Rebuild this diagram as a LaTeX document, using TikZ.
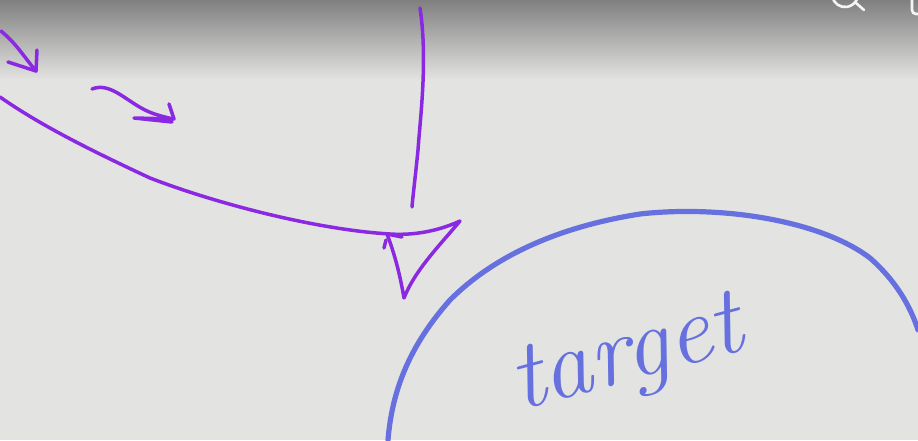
\documentclass[tikz,border=0pt]{standalone}
\begin{document}
\begin{tikzpicture}[x=1pt,y=-1pt,
  pen/.style={draw=penpurple,line width=3.5pt,line cap=round,line join=round},
  bluepen/.style={draw=penblue,line width=5.2pt,line cap=round,line join=round},
  uiicon/.style={draw=white!92!gray,line width=2.6pt,line cap=round}]
\definecolor{penpurple}{RGB}{138,40,226}
\definecolor{penblue}{RGB}{102,112,222}
\definecolor{boardbg}{RGB}{227,228,226}
\definecolor{topshade}{RGB}{128,128,128}
\useasboundingbox (0,0) rectangle (918,440);
\fill[boardbg] (0,0) rectangle (918,440);
\shade[top color=topshade,bottom color=boardbg] (0,0) rectangle (918,80);
% screenshot UI icons
\draw[uiicon] (832.2,-3.7) arc[start angle=170,end angle=20,radius=13];
\draw[uiicon] (856,3) -- (864,10);
\draw[uiicon] (918,14) -- (916,14) to[out=180,in=270] (912,10) -- (912,0);
% top-left arrow
\coordinate (a1s) at (1,31);
\coordinate (a1t) at (36,71);
\draw[pen] (a1s) to[out=-40,in=130] (a1t);
\draw[pen] (37,50) -- (36,71) -- (8,62);
% small squiggle arrow
\coordinate (a2s) at (92,89);
\coordinate (a2t) at (173,119);
\draw[pen] (a2s) .. controls (110,82) and (125,100) .. (145,110) .. controls (155,115) and (165,117) .. (a2t);
\draw[pen] (169,104) -- (174,119) -- (134,118) -- (172,122);
% long curve into triangle
\coordinate (lcs) at (0,97);
\coordinate (tri1) at (460,221);
\coordinate (tri2) at (404,298);
\coordinate (tri3) at (387,234);
\draw[pen] (lcs) .. controls (40,125) and (90,150) .. (150,178)
  .. controls (220,205) and (320,230) .. (390,234)
  .. controls (420,236) and (445,228) .. (tri1)
  .. controls (440,245) and (415,270) .. (tri2)
  .. controls (400,275) and (395,255) .. (tri3);
\draw[pen] (tri3) -- (402,237);
\draw[pen] (386,240) -- (384,248);
% vertical line
\coordinate (vs) at (420,8);
\coordinate (ve) at (412,207);
\draw[pen] (vs) .. controls (428,60) and (420,120) .. (418,150) .. controls (415,180) and (413,195) .. (ve);
% blue target blob
\coordinate (bs) at (388,440);
\draw[bluepen] (bs) .. controls (392,390) and (410,345) .. (450,300)
  .. controls (500,250) and (570,225) .. (640,214)
  .. controls (720,205) and (820,220) .. (870,258)
  .. controls (895,280) and (910,305) .. (918,330);
\node[text=penblue,rotate=15,font=\itshape\fontsize{98}{98}\selectfont,inner sep=0pt] (tgt) at (628,360) {target};
\end{tikzpicture}
\end{document}
